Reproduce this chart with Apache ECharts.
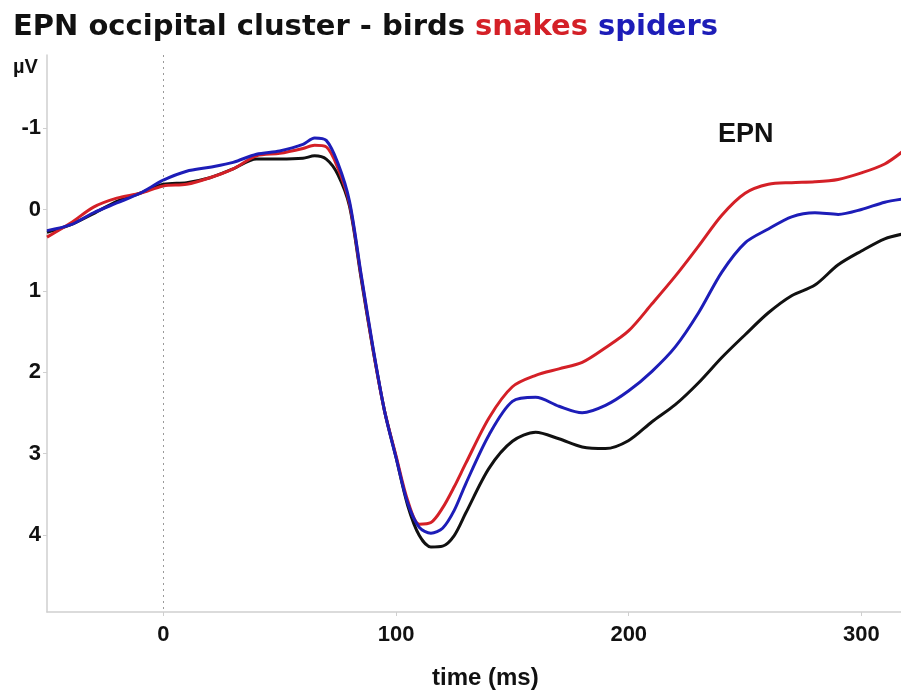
<!DOCTYPE html>
<html>
<head>
<meta charset="utf-8">
<script src="https://cdn.jsdelivr.net/npm/echarts@6/dist/echarts.min.js"></script>
<style>html,body{margin:0;padding:0;background:#fff}#c{width:901px;height:695px}</style>
</head>
<body>
<div id="c"></div>
<script>
// time (ms)
const times = [-50,-40,-30,-20,-10,0,10,20,30,40,50,60,65,70,75,80,85,90,95,100,105,110,115,120,125,130,140,150,160,170,180,190,200,210,220,230,240,250,260,270,280,290,300,310,318];
// amplitudes (µV)
const birds = [0.28,0.19,0.05,-0.10,-0.20,-0.31,-0.33,-0.39,-0.50,-0.62,-0.62,-0.63,-0.66,-0.62,-0.43,-0.04,0.85,1.71,2.47,3.05,3.64,4.01,4.15,4.14,4.01,3.73,3.18,2.85,2.74,2.82,2.92,2.94,2.84,2.61,2.40,2.13,1.82,1.54,1.27,1.06,0.93,0.68,0.51,0.36,0.30];
const snakes = [0.34,0.17,-0.03,-0.14,-0.20,-0.29,-0.31,-0.39,-0.50,-0.66,-0.69,-0.75,-0.79,-0.77,-0.51,-0.07,0.82,1.70,2.47,3.03,3.58,3.87,3.85,3.67,3.41,3.12,2.56,2.18,2.04,1.96,1.88,1.70,1.49,1.16,0.82,0.45,0.07,-0.20,-0.31,-0.33,-0.34,-0.37,-0.45,-0.56,-0.72];
const spiders = [0.26,0.19,0.04,-0.08,-0.20,-0.36,-0.47,-0.52,-0.58,-0.68,-0.72,-0.80,-0.88,-0.85,-0.57,-0.10,0.80,1.68,2.47,3.05,3.61,3.91,3.98,3.92,3.70,3.37,2.77,2.36,2.31,2.42,2.50,2.41,2.23,1.99,1.69,1.27,0.77,0.41,0.24,0.09,0.04,0.06,0.00,-0.09,-0.13];
const xTicks = [0,100,200,300];
const yTicks = [-1,0,1,2,3,4];

const pair = arr => times.map((t,i)=>[t,arr[i]]);
const chart = echarts.init(document.getElementById('c'));
const labelFont = {fontFamily:'Liberation Sans, Arial, sans-serif', fontWeight:'bold', fontSize:22, color:'#111'};
const mk = (name, data, color, extra) => Object.assign({
  name, type:'line', data: pair(data), smooth:0.3, symbol:'none',
  lineStyle:{color, width:3}, itemStyle:{color}, z:3
}, extra||{});
const tf = {fontFamily:'DejaVu Sans', fontWeight:'bold', fontSize:29};
chart.setOption({
  animation:false,
  backgroundColor:'#fff',
  title:{
    left:8, top:8,
    text:'{k|EPN occipital cluster - birds }{r|snakes }{b|spiders}',
    textStyle:{
      rich:{
        k:Object.assign({color:'#111'}, tf),
        r:Object.assign({color:'#d42027'}, tf),
        b:Object.assign({color:'#1d1db8'}, tf)
      }
    }
  },
  grid:{left:47, right:0, top:55, bottom:83},
  xAxis:{
    type:'value', min:-50, max:317,
    axisLine:{onZero:false, lineStyle:{color:'#cfcfcf', width:1.5}},
    axisTick:{show:true, length:4, lineStyle:{color:'#cfcfcf'}, customValues:xTicks},
    axisLabel:Object.assign({margin:12, customValues:xTicks}, labelFont),
    splitLine:{show:false}
  },
  yAxis:{
    type:'value', inverse:true, min:-1.9, max:4.95,
    axisLine:{show:true, onZero:false, lineStyle:{color:'#cfcfcf', width:1.5}},
    axisTick:{show:true, length:4, lineStyle:{color:'#cfcfcf'}, customValues:yTicks},
    axisLabel:Object.assign({margin:6, customValues:yTicks}, labelFont),
    splitLine:{show:false}
  },
  graphic:[
    {type:'text', left:13, top:57, style:{text:'µV', font:'bold 20px "Liberation Sans", Arial, sans-serif', fill:'#111'}},
    {type:'text', left:718, top:121, style:{text:'EPN', font:'bold 27px "Liberation Sans", Arial, sans-serif', fill:'#111'}},
    {type:'text', left:432, top:666, style:{text:'time (ms)', font:'bold 24px "Liberation Sans", Arial, sans-serif', fill:'#111'}}
  ],
  series:[
    mk('birds', birds, '#111111', {
      markLine:{silent:true, symbol:'none', label:{show:false},
        lineStyle:{type:[2,4], color:'#9a9a9a', width:1},
        data:[{xAxis:0}]}
    }),
    mk('snakes', snakes, '#d42027'),
    mk('spiders', spiders, '#1d1db8')
  ]
});
</script>
</body>
</html>
